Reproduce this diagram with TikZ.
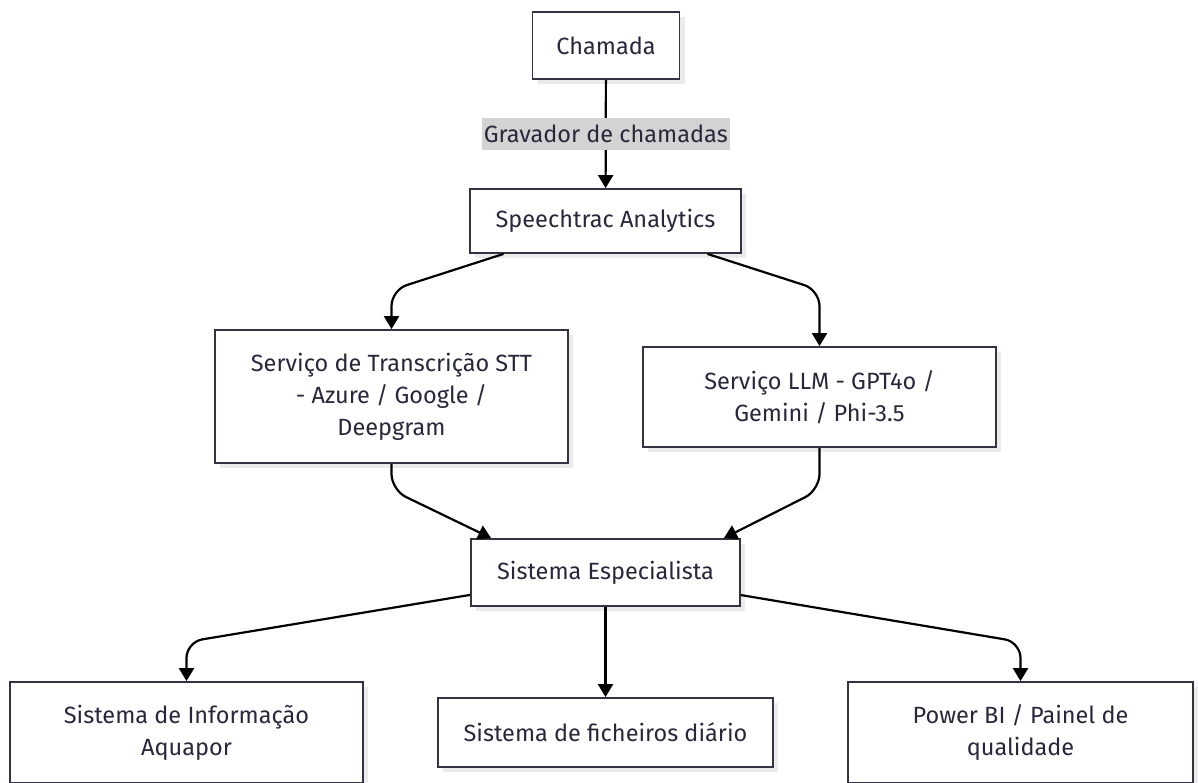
\documentclass[tikz,border=0pt]{standalone}
\usepackage{fontspec}
\setmainfont{Fira Sans}
\usetikzlibrary{arrows.meta,shadows,calc}
\definecolor{boxline}{RGB}{51,51,68}
\definecolor{boxtext}{RGB}{40,40,60}
\definecolor{lblfill}{RGB}{211,211,211}

\begin{document}
\begin{tikzpicture}[x=1pt,y=-1pt,
		caixa/.style={draw=boxline,line width=1.8pt,fill=white,text=boxtext,align=center,
			inner sep=0pt,font=\fontsize{23.5}{32}\selectfont,
			drop shadow={shadow xshift=5pt,shadow yshift=-5pt,fill=black!8,opacity=1}},
		fluxo/.style={draw=black,line width=2.2pt,rounded corners=16pt,
			-{Triangle[width=15pt,length=13pt]}},
		rotulo/.style={fill=lblfill,text=boxtext,sharp corners,inner xsep=2pt,inner ysep=0pt,
			minimum height=32pt,font=\fontsize{23.5}{26}\selectfont}]
	\useasboundingbox (0,0) rectangle (1198,782);
	
	% caixas
	\node[caixa,minimum width=147pt,minimum height=67pt] (cham) at (606,45.5) {Chamada};
	\node[caixa,minimum width=271pt,minimum height=64pt] (spa) at (605.5,221) {Speechtrac Analytics};
	\node[caixa,minimum width=353pt,minimum height=133pt] (stt) at (391.5,396.5) {Serviço de Transcrição STT\\- Azure / Google /\\Deepgram};
	\node[caixa,minimum width=353pt,minimum height=100pt] (llm) at (819.5,397) {Serviço LLM - GPT4o /\\Gemini / Phi-3.5};
	\node[caixa,minimum width=269pt,minimum height=67pt] (esp) at (605.5,572.5) {Sistema Especialista};
	\node[caixa,minimum width=353pt,minimum height=101pt] (aqua) at (186.5,732.5) {Sistema de Informação\\Aquapor};
	\node[caixa,minimum width=335pt,minimum height=69pt] (fich) at (605.5,732.5) {Sistema de ficheiros diário};
	\node[caixa,minimum width=345pt,minimum height=101pt] (pbi) at (1020.5,732.5) {Power BI / Painel de\\qualidade};
	
	% ligacoes
	\draw[fluxo] (cham) -- node[rotulo]{Gravador de chamadas} (spa);
	\draw[fluxo] (spa) -- (stt.north |- 0,290) -- (stt.north);
	\draw[fluxo] (spa) -- (llm.north |- 0,290) -- (llm.north);
	\draw[fluxo] (stt.south) -- (stt.south |- 0,490) -- ($(esp.north west)+(21,0)$);
	\draw[fluxo] (llm.south) -- (llm.south |- 0,490) -- ($(esp.north east)+(-17,0)$);
	\draw[fluxo] (esp) -- (aqua.north |- 0,642) -- (aqua.north);
	\draw[fluxo] (esp) -- (fich);
	\draw[fluxo] (esp) -- (pbi.north |- 0,642) -- (pbi.north);
\end{tikzpicture}
\end{document}
